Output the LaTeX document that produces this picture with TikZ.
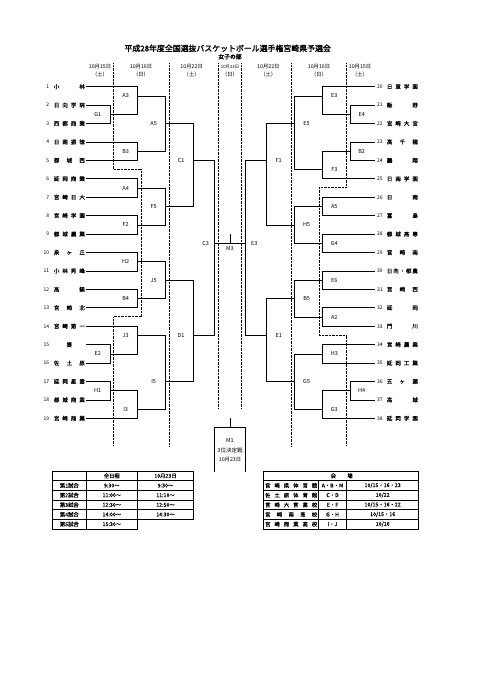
\documentclass[tikz,border=0pt]{standalone}
\usepackage{fontspec}
\setmainfont{Noto Sans CJK JP}[AutoFakeBold=2]
\newfontfamily\jpm{Noto Sans CJK JP}[FakeBold=0.3]
\usetikzlibrary{calc}
\newcommand\lteam[2]{%
  \node[num,anchor=east] (ln#1) at (148,{ry(#1)}) {#1};
  \node[nm,anchor=west] (lt#1) at (161,{ry(#1)}) {\makebox[31pt]{#2}};
  \coordinate (t#1) at (258,{ry(#1)});
}
\newcommand\rteam[2]{%
  \node[num,anchor=west] (rn#1) at (1131,{ry((#1)-19)}) {#1};
  \node[nm,anchor=west] (rt#1) at (1160,{ry((#1)-19)}) {\makebox[31pt]{#2}};
  \coordinate (t#1) at (1125,{ry((#1)-19)});
}
% #1 name, #2 column, #3 output row, #4 input 1, #5 input 2, #6 label, #7 label shift
\newcommand\mt[7]{%
  \coordinate (#1) at (#2,{ry(#3)});
  \draw[br] (#4) -- (#4 -| #1) -- (#5 -| #1) -- (#5);
  \node[lab] (#1lab) at ([xshift=#7]#1) {#6};
}
\begin{document}
\begin{tikzpicture}[x=0.333333pt,y=-0.333333pt,
  declare function={ry(\k)=260+(\k-1)*55.28;},
  br/.style={line width=0.65pt},
  dv/.style={densely dotted,line width=0.4pt},
  num/.style={font=\fontsize{5}{6}\selectfont,inner sep=0pt},
  nm/.style={font=\jpm\fontsize{5.5}{6}\selectfont,inner sep=0pt},
  lab/.style={font=\fontsize{5.5}{6}\selectfont,inner sep=0pt},
  hd/.style={font=\fontsize{5.3}{6}\selectfont,inner sep=0pt},
  hds/.style={font=\fontsize{4.3}{5}\selectfont,inner sep=0pt},
  tx/.style={font=\jpm\fontsize{5.3}{6}\selectfont,inner sep=0pt},
  tbo/.style={line width=1pt},
  tbi/.style={line width=0.6pt}]
\useasboundingbox (0,0) rectangle (1443,2040);

% title
\node[font=\fontsize{7.9}{9}\selectfont\bfseries,inner sep=0pt] (title) at (683,145) {平成28年度全国選抜バスケットボール選手権宮崎県予選会};
\node[font=\fontsize{5.8}{7}\selectfont\bfseries,inner sep=0pt] (sub) at (690,170) {女子の部};

% date headers
\node[hd] (d1a) at (300,200) {10月15日}; \node[hd] (d1b) at (300,222) {（土）};
\node[hd] (d2a) at (423,200) {10月16日}; \node[hd] (d2b) at (423,222) {（日）};
\node[hd] (d3a) at (575,200) {10月22日}; \node[hd] (d3b) at (575,222) {（土）};
\node[hds] (d4a) at (690,200) {10月23日}; \node[hd] (d4b) at (690,222) {（日）};
\node[hd] (d5a) at (805,200) {10月22日}; \node[hd] (d5b) at (805,222) {（土）};
\node[hd] (d6a) at (957,200) {10月16日}; \node[hd] (d6b) at (957,222) {（日）};
\node[hd] (d7a) at (1080,200) {10月15日}; \node[hd] (d7b) at (1080,222) {（土）};

% dotted dividers
\draw[dv] (340,190) -- (340,508) -- (425,508) -- (425,950) -- (340,950) -- (340,1338);
\draw[dv] (508,190) -- (508,1338);
\draw[dv] (656,190) -- (656,1225);
\draw[dv] (723,190) -- (723,1225);
\draw[dv] (873,190) -- (873,1338);
\draw[dv] (1040,190) -- (1040,563) -- (957,563) -- (957,1006) -- (1040,1006) -- (1040,1338);

% left teams
\lteam{1}{小\hfill 林}
\lteam{2}{日\hfill 向\hfill 学\hfill 院}
\lteam{3}{西\hfill 都\hfill 商\hfill 業}
\lteam{4}{日\hfill 南\hfill 振\hfill 徳}
\lteam{5}{都\hfill 城\hfill 西}
\lteam{6}{延\hfill 岡\hfill 商\hfill 業}
\lteam{7}{宮\hfill 崎\hfill 日\hfill 大}
\lteam{8}{宮\hfill 崎\hfill 学\hfill 園}
\lteam{9}{都\hfill 城\hfill 農\hfill 業}
\lteam{10}{泉\hfill ヶ\hfill 丘}
\lteam{11}{小\hfill 林\hfill 秀\hfill 峰}
\lteam{12}{高\hfill 鍋}
\lteam{13}{宮\hfill 崎\hfill 北}
\lteam{14}{宮\hfill 崎\hfill 第\hfill 一}
\lteam{15}{\hfill 妻\hfill}
\lteam{16}{佐\hfill 土\hfill 原}
\lteam{17}{延\hfill 岡\hfill 星\hfill 雲}
\lteam{18}{都\hfill 城\hfill 商\hfill 業}
\lteam{19}{宮\hfill 崎\hfill 商\hfill 業}

% right teams
\rteam{20}{日\hfill 章\hfill 学\hfill 園}
\rteam{21}{飯\hfill 野}
\rteam{22}{宮\hfill 崎\hfill 大\hfill 宮}
\rteam{23}{高\hfill 千\hfill 穂}
\rteam{24}{鵬\hfill 翔}
\rteam{25}{日\hfill 南\hfill 学\hfill 園}
\rteam{26}{日\hfill 南}
\rteam{27}{富\hfill 島}
\rteam{28}{都\hfill 城\hfill 高\hfill 専}
\rteam{29}{宮\hfill 崎\hfill 南}
\rteam{30}{日\hfill 向\hfill ・\hfill 都\hfill 農}
\rteam{31}{宮\hfill 崎\hfill 西}
\rteam{32}{延\hfill 岡}
\rteam{33}{門\hfill 川}
\rteam{34}{宮\hfill 崎\hfill 農\hfill 業}
\rteam{35}{延\hfill 岡\hfill 工\hfill 業}
\rteam{36}{五\hfill ヶ\hfill 瀬}
\rteam{37}{高\hfill 城}
\rteam{38}{延\hfill 岡\hfill 学\hfill 園}

% left bracket
\mt{LG1}{330}{2.5}{t2}{t3}{G1}{-12.3pt}
\mt{LA3}{413}{1.5}{t1}{LG1}{A3}{-12pt}
\mt{LB3}{413}{4.5}{t4}{t5}{B3}{-12pt}
\mt{LA5}{497}{3}{LA3}{LB3}{A5}{-12pt}
\mt{LA4}{413}{6.5}{t6}{t7}{A4}{-12pt}
\mt{LF2}{413}{8.5}{t8}{t9}{F2}{-12pt}
\mt{LF5}{497}{7.5}{LA4}{LF2}{F5}{-12pt}
\mt{LC1}{580}{5}{LA5}{LF5}{C1}{-12.3pt}
\mt{LH2}{413}{10.5}{t10}{t11}{H2}{-12pt}
\mt{LB4}{413}{12.5}{t12}{t13}{B4}{-12pt}
\mt{LJ5}{497}{11.5}{LH2}{LB4}{J5}{-12pt}
\mt{LE2}{330}{15.5}{t15}{t16}{E2}{-12.3pt}
\mt{LJ3}{413}{14.5}{t14}{LE2}{J3}{-12pt}
\mt{LH1}{330}{17.5}{t17}{t18}{H1}{-12.3pt}
\mt{LI3}{413}{18.5}{LH1}{t19}{I3}{-12pt}
\mt{LI5}{497}{17}{LJ3}{LI3}{I5}{-12pt}
\mt{LD1}{580}{14.5}{LJ5}{LI5}{D1}{-12.3pt}
\mt{LC3}{643}{9.5}{LC1}{LD1}{C3}{-8.7pt}

% right bracket
\mt{RE4}{1050}{2.5}{t21}{t22}{E4}{11.7pt}
\mt{RE3}{967}{1.5}{t20}{RE4}{E3}{12pt}
\mt{RB2}{1050}{4.5}{t23}{t24}{B2}{11.7pt}
\mt{RF3}{967}{5.5}{RB2}{t25}{F3}{12pt}
\mt{RE5}{883}{3}{RE3}{RF3}{E5}{12.3pt}
\mt{RA5}{967}{7.5}{t26}{t27}{A5}{12pt}
\mt{RG4}{967}{9.5}{t28}{t29}{G4}{12pt}
\mt{RH5}{883}{8.5}{RA5}{RG4}{H5}{12.3pt}
\mt{RF1}{800}{5}{RE5}{RH5}{F1}{12pt}
\mt{RE6}{967}{11.5}{t30}{t31}{E6}{12pt}
\mt{RA2}{967}{13.5}{t32}{t33}{A2}{12pt}
\mt{RB5}{883}{12.5}{RE6}{RA2}{B5}{12.3pt}
\mt{RH3}{967}{15.5}{t34}{t35}{H3}{12pt}
\mt{RH4}{1050}{17.5}{t36}{t37}{H4}{11.7pt}
\mt{RG3}{967}{18.5}{RH4}{t38}{G3}{12pt}
\mt{RG5}{883}{17}{RH3}{RG3}{G5}{12.3pt}
\mt{RE1}{800}{14.5}{RB5}{RG5}{E1}{12pt}
\mt{RE3c}{737}{9.5}{RF1}{RE1}{E3}{8.7pt}

% final
\draw[br] (LC3) -- (RE3c);
\coordinate (m3) at (690,{ry(9.5)});
\draw[br] (m3) -- ++(0,-27);
\node[lab] (m3lab) at (690,745) {M3};

% 3rd place
\coordinate (m1tick) at (690,{ry(19)});
\coordinate (m1top) at (690,1282);
\draw[br] (m1tick) -- (m1top);
\draw[br] (643,1415) -- (643,1282) -- (737,1282) -- (737,1415);
\node[lab] (m1a) at (690,1322) {M1};
\node[lab] (m1b) at (690,1350) {3位決定戦};
\node[hd] (m1c) at (690,1378) {10月23日};

% left table
\draw[tbi] (158,1442) -- (580,1442);
\draw[tbi] (158,1471) -- (580,1471);
\draw[tbi] (158,1500) -- (580,1500);
\draw[tbi] (158,1529) -- (580,1529);
\draw[tbi] (258,1413) -- (258,1587);
\draw[tbi] (413,1413) -- (413,1558);
\draw[tbo] (158,1413) -- (580,1413) -- (580,1558) -- (413,1558) -- (413,1587) -- (158,1587) -- cycle;
\draw[tbi] (158,1558) -- (413,1558);
\node[tx] (lh2) at (335.5,1427.5) {全日程};
\node[tx] (lh3) at (496.5,1427.5) {10月23日};
\foreach \r/\a/\b/\c in {1/第1試合/9:30〜/9:30〜, 2/第2試合/11:00〜/11:10〜, 3/第3試合/12:30〜/12:50〜, 4/第4試合/14:00〜/14:30〜}{
  \node[tx] (la\r) at (208,{1427.5+29*\r}) {\a};
  \node[tx] (lb\r) at (335.5,{1427.5+29*\r}) {\b};
  \node[tx] (lc\r) at (496.5,{1427.5+29*\r}) {\c};
}
\node[tx] (la5) at (208,1572.5) {第5試合};
\node[tx] (lb5) at (335.5,1572.5) {15:30〜};

% right table
\foreach \yy in {1442,1471,1500,1529,1558} \draw[tbi] (790,\yy) -- (1256,\yy);
\draw[tbi] (955,1442) -- (955,1587);
\draw[tbi] (1040,1442) -- (1040,1587);
\draw[tbo] (790,1413) rectangle (1256,1587);
\node[tx] (rh1) at (1000,1427.5) {会};
\node[tx] (rh2) at (1050,1427.5) {場};
\foreach \r/\a/\b/\c in {1/{宮\hfill 崎\hfill 県\hfill 体\hfill 育\hfill 館}/{A・B・M}/{10/15・16・23},
  2/{佐\hfill 土\hfill 原\hfill 体\hfill 育\hfill 館}/{C・D}/{10/22},
  3/{宮\hfill 崎\hfill 大\hfill 宮\hfill 高\hfill 校}/{E・F}/{10/15・16・22},
  4/{宮\hfill 崎\hfill 南\hfill 高\hfill 校}/{G・H}/{10/15・16},
  5/{宮\hfill 崎\hfill 商\hfill 業\hfill 高\hfill 校}/{I・J}/{10/16}}{
  \node[tx,anchor=west] (ra\r) at (795,{1427.5+29*\r}) {\makebox[52pt]{\a}};
  \node[tx] (rb\r) at (997.5,{1427.5+29*\r}) {\b};
  \node[tx] (rc\r) at (1148,{1427.5+29*\r}) {\c};
}
\end{tikzpicture}
\end{document}
